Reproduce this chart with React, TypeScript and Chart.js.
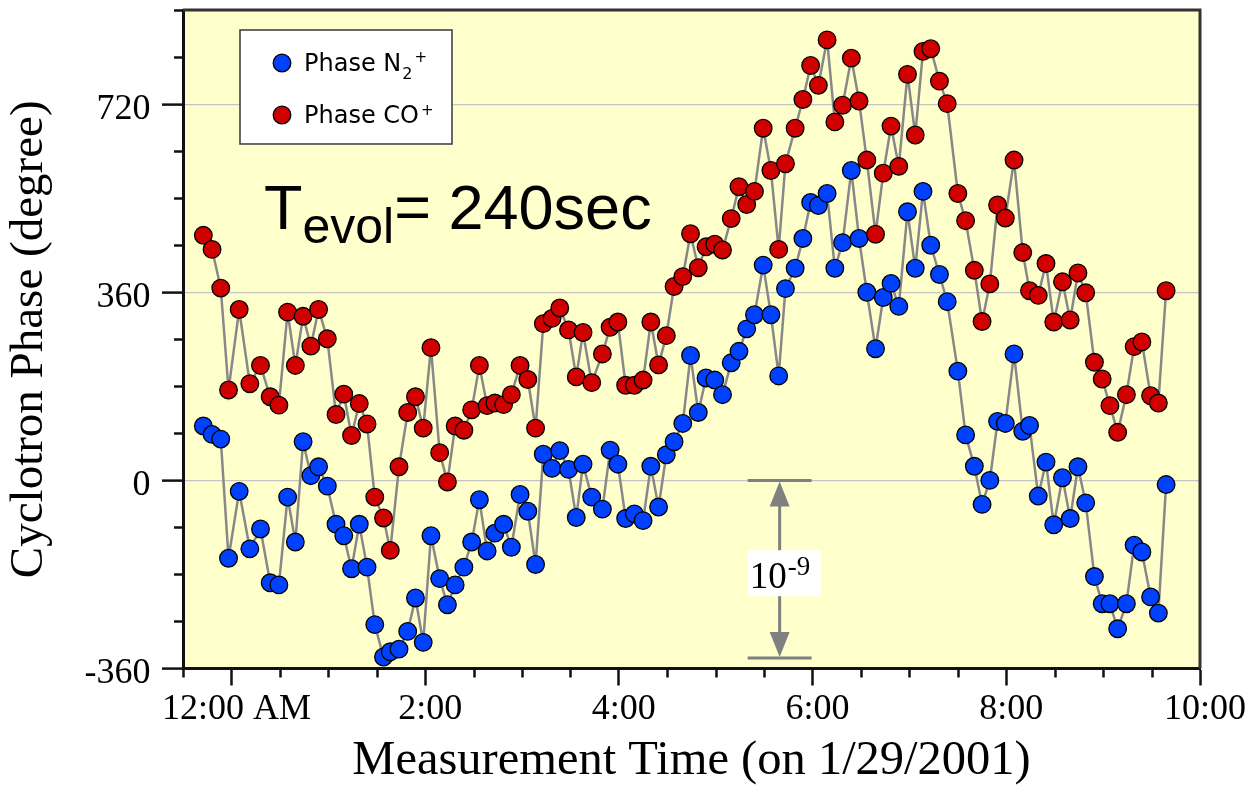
import React, { useEffect, useRef } from 'react';
import { Chart, registerables } from 'chart.js';

Chart.register(...registerables);

// Measurement times in hours after midnight (1/29/2001)
const times = [
  -0.29, -0.2, -0.11, -0.03, 0.08, 0.19, 0.3, 0.4, 0.49, 0.58, 0.66, 0.74, 0.82, 0.9, 0.99, 1.08, 1.16, 1.24, 1.32, 1.4, 1.48, 1.57, 1.64,
  1.73, 1.82, 1.9, 1.98, 2.06, 2.15, 2.23, 2.31, 2.4, 2.48, 2.56, 2.64, 2.72, 2.81, 2.89, 2.98, 3.06, 3.14, 3.22, 3.31, 3.39, 3.48, 3.56, 3.63,
  3.72, 3.83, 3.91, 3.99, 4.07, 4.16, 4.25, 4.33, 4.41, 4.49, 4.57, 4.66, 4.74, 4.82, 4.9, 4.99, 5.07, 5.16, 5.24, 5.32, 5.4, 5.49, 5.57, 5.65, 5.72,
  5.82, 5.9, 5.98, 6.06, 6.15, 6.23, 6.31, 6.4, 6.48, 6.56, 6.65, 6.73, 6.81, 6.89, 6.98, 7.06, 7.14, 7.22, 7.31, 7.39, 7.5, 7.58, 7.67, 7.75,
  7.83, 7.91, 7.99, 8.08, 8.17, 8.24, 8.33, 8.41, 8.49, 8.58, 8.66, 8.74, 8.82, 8.91, 8.99, 9.07, 9.15, 9.24, 9.32, 9.4, 9.49, 9.57, 9.65,
];

// Phase CO+ (degree)
const phaseCO = [
  469, 442, 368, 173, 327, 185, 220, 160, 144, 322, 220, 314, 257, 327, 271, 126, 165, 86, 147, 108, -32, -72, -134,
  26, 130, 160, 100, 254, 53, -3, 104, 96, 135, 220, 143, 148, 145, 164, 220, 193, 100, 300, 310, 330, 288, 198, 283,
  187, 242, 293, 303, 182, 182, 192, 303, 221, 277, 371, 390, 472, 407, 447, 452, 441, 501, 562, 528, 553, 674, 593, 442, 606,
  674, 729, 794, 756, 843, 686, 718, 808, 726, 613, 471, 588, 678, 601, 777, 661, 821, 826, 764, 721, 549, 497, 402, 304,
  376, 527, 502, 613, 436, 363, 354, 415, 303, 380, 307, 397, 359, 226, 194, 143, 92, 164, 256, 265, 162, 148, 363,
];

// Phase N2+ (degree)
const phaseN2 = [
  104, 88, 79, -149, -21, -131, -93, -196, -200, -32, -118, 74, 9, 26, -11, -84, -106, -169, -84, -166, -276, -338, -328,
  -323, -289, -225, -310, -106, -188, -238, -200, -166, -118, -37, -135, -101, -84, -128, -27, -59, -161, 50, 23, 57, 21, -71, 31,
  -32, -55, 58, 31, -73, -64, -77, 27, -51, 49, 74, 109, 239, 130, 196, 192, 164, 225, 247, 290, 317, 412, 317, 200, 367,
  406, 463, 532, 526, 549, 406, 455, 593, 463, 360, 252, 350, 377, 333, 514, 406, 553, 450, 394, 342, 209, 87, 27, -46,
  0, 113, 109, 242, 94, 105, -30, 35, -85, 5, -73, 26, -43, -184, -236, -236, -284, -236, -124, -137, -223, -254, -8,
];

// Tick labels
const xTickValues = [0, 2, 4, 6, 8, 10];
const xTickLabels = ['12:00 AM', '2:00', '4:00', '6:00', '8:00', '10:00'];
const yTickValues = [-360, 0, 360, 720];
const yTickLabels = ['-360', '0', '360', '720'];

// Annotation (arrow showing 10^-9)
const arrowTime = 5.66;
const arrowHalfWidth = 0.33;
const arrowTopValue = 0;
const arrowBottomValue = -340;

const SERIF = "'Liberation Serif', 'Times New Roman', serif";
const SANS = "'Liberation Sans', Arial, sans-serif";
const LEGEND_FONT = "'DejaVu Sans', Verdana, sans-serif";
const BLUE = '#0040ff';
const RED = '#d00000';

const toPoints = (ys: number[]) => ys.map((v, i) => ({ x: times[i], y: v }));

const isMajorX = (v: number) => xTickValues.indexOf(v) >= 0;
const isMajorY = (v: number) => yTickValues.indexOf(v) >= 0;

const decorPlugin = {
  id: 'decor',
  beforeDraw(chart: any) {
    const { ctx, chartArea: a } = chart;
    ctx.save();
    ctx.fillStyle = '#ffffcc';
    ctx.fillRect(a.left, a.top, a.right - a.left, a.bottom - a.top);
    ctx.restore();
  },
  afterDatasetsDraw(chart: any) {
    const { ctx, scales } = chart;
    const xs = scales.x;
    const ys = scales.y;

    // Legend box
    ctx.save();
    ctx.fillStyle = '#ffffff';
    ctx.fillRect(240, 30, 212, 114);
    ctx.strokeStyle = '#444';
    ctx.lineWidth = 1.6;
    ctx.strokeRect(240, 30, 212, 114);
    const marker = (cx: number, cy: number, color: string) => {
      ctx.beginPath();
      ctx.arc(cx, cy, 8.8, 0, Math.PI * 2);
      ctx.fillStyle = color;
      ctx.fill();
      ctx.lineWidth = 1.3;
      ctx.strokeStyle = '#000';
      ctx.stroke();
    };
    marker(282, 63, BLUE);
    marker(282, 115, RED);
    ctx.fillStyle = '#000';
    ctx.textBaseline = 'alphabetic';
    ctx.textAlign = 'left';
    ctx.font = `24px ${LEGEND_FONT}`;
    ctx.fillText('Phase N', 304, 71);
    let w = ctx.measureText('Phase N').width;
    ctx.font = `16px ${LEGEND_FONT}`;
    ctx.fillText('2', 304 + w + 1, 79);
    const w2 = ctx.measureText('2').width;
    ctx.font = `15px ${LEGEND_FONT}`;
    ctx.fillText('+', 304 + w + w2 + 3, 62);
    ctx.font = `24px ${LEGEND_FONT}`;
    ctx.fillText('Phase CO', 304, 123);
    w = ctx.measureText('Phase CO').width;
    ctx.font = `15px ${LEGEND_FONT}`;
    ctx.fillText('+', 304 + w + 2, 115);

    // T_evol text
    ctx.font = `63px ${SANS}`;
    ctx.fillText('T', 264, 229);
    const wt = ctx.measureText('T').width;
    ctx.font = `50px ${SANS}`;
    ctx.fillText('evol', 264 + wt, 243);
    const we = ctx.measureText('evol').width;
    ctx.font = `63px ${SANS}`;
    ctx.fillText('= 240sec', 264 + wt + we, 229);

    // Arrow annotation
    const xp = xs.getPixelForValue(arrowTime);
    const x1 = xs.getPixelForValue(arrowTime - arrowHalfWidth);
    const x2 = xs.getPixelForValue(arrowTime + arrowHalfWidth);
    const yt = ys.getPixelForValue(arrowTopValue);
    const yb = ys.getPixelForValue(arrowBottomValue);
    ctx.strokeStyle = '#808080';
    ctx.fillStyle = '#808080';
    ctx.lineWidth = 3;
    ctx.beginPath();
    ctx.moveTo(x1, yt);
    ctx.lineTo(x2, yt);
    ctx.moveTo(x1, yb);
    ctx.lineTo(x2, yb);
    ctx.moveTo(xp, yt + 20);
    ctx.lineTo(xp, yb - 20);
    ctx.stroke();
    ctx.beginPath();
    ctx.moveTo(xp, yt + 1);
    ctx.lineTo(xp - 10, yt + 26);
    ctx.lineTo(xp + 10, yt + 26);
    ctx.closePath();
    ctx.fill();
    ctx.beginPath();
    ctx.moveTo(xp, yb - 1);
    ctx.lineTo(xp - 10, yb - 26);
    ctx.lineTo(xp + 10, yb - 26);
    ctx.closePath();
    ctx.fill();
    const cy = (yt + yb) / 2 + 4;
    ctx.fillStyle = '#ffffff';
    ctx.fillRect(xp - 32, cy - 23, 73, 46);
    ctx.fillStyle = '#000';
    ctx.font = `37px ${SERIF}`;
    ctx.fillText('10', xp - 30, cy + 14.5);
    const w10 = ctx.measureText('10').width;
    ctx.font = `27px ${SERIF}`;
    ctx.fillText('-9', xp - 30 + w10 + 1, cy + 1.5);
    ctx.restore();
  },
  afterDraw(chart: any) {
    const { ctx, chartArea: a, scales } = chart;
    ctx.save();
    // top and right frame
    ctx.strokeStyle = '#333';
    ctx.lineWidth = 3;
    ctx.beginPath();
    ctx.moveTo(a.left, a.top);
    ctx.lineTo(a.right, a.top);
    ctx.lineTo(a.right, a.bottom);
    ctx.stroke();
    // minor ticks
    ctx.strokeStyle = '#111';
    ctx.lineWidth = 2.5;
    ctx.beginPath();
    for (const t of scales.x.ticks) {
      if (isMajorX(t.value)) continue;
      const px = Math.round(scales.x.getPixelForValue(t.value)) + 0.5;
      ctx.moveTo(px, a.bottom);
      ctx.lineTo(px, a.bottom + 9);
    }
    for (const t of scales.y.ticks) {
      if (isMajorY(t.value)) continue;
      const py = Math.round(scales.y.getPixelForValue(t.value)) + 0.5;
      ctx.moveTo(a.left, py);
      ctx.lineTo(a.left - 9, py);
    }
    ctx.stroke();
    ctx.restore();
  },
};

export default function App() {
  const ref = useRef<HTMLCanvasElement>(null);
  useEffect(() => {
    const canvas = ref.current;
    if (!canvas) return;
    const chart = new Chart(canvas, {
      type: 'line',
      data: {
        datasets: [
          {
            label: 'Phase CO+',
            data: toPoints(phaseCO),
            borderColor: '#888888',
            borderWidth: 2.5,
            pointBackgroundColor: RED,
            pointBorderColor: '#000',
            pointBorderWidth: 1.3,
            pointRadius: 8.8,
            tension: 0,
            fill: false,
          },
          {
            label: 'Phase N2+',
            data: toPoints(phaseN2),
            borderColor: '#888888',
            borderWidth: 2.5,
            pointBackgroundColor: BLUE,
            pointBorderColor: '#000',
            pointBorderWidth: 1.3,
            pointRadius: 8.8,
            tension: 0,
            fill: false,
          },
        ],
      },
      options: {
        responsive: false,
        animation: false,
        events: [],
        layout: { padding: { left: 0, top: 3, right: 52, bottom: 0 } },
        plugins: {
          legend: { display: false },
          tooltip: { enabled: false },
        },
        scales: {
          x: {
            type: 'linear',
            min: -0.5,
            max: 10,
            afterFit: (s: any) => {
              s.height = 121.5;
              s.paddingLeft = 0;
              s.paddingRight = 0;
            },
            ticks: {
              stepSize: 0.5,
              autoSkip: false,
              maxRotation: 0,
              minRotation: 0,
              padding: 2,
              labelOffset: 5,
              color: '#000',
              font: { family: SERIF, size: 36 },
              callback: (v: any) => {
                const i = xTickValues.indexOf(Number(v));
                return i >= 0 ? xTickLabels[i] : '';
              },
            },
            grid: {
              drawOnChartArea: false,
              drawTicks: true,
              tickLength: 17,
              tickWidth: 2.5,
              tickColor: (c: any) => (c.tick && isMajorX(c.tick.value) ? '#111' : 'rgba(0,0,0,0)'),
            },
            border: { display: true, color: '#111', width: 3 },
            title: {
              display: true,
              text: 'Measurement Time (on 1/29/2001)',
              color: '#000',
              font: { family: SERIF, size: 48.5 },
              padding: { top: 0, bottom: 0 },
            },
          },
          y: {
            type: 'linear',
            min: -360,
            max: 900,
            afterFit: (s: any) => {
              s.width = 183;
              s.paddingTop = 0;
              s.paddingBottom = 0;
            },
            ticks: {
              stepSize: 90,
              autoSkip: false,
              padding: 11.5,
              labelOffset: 5,
              color: '#000',
              font: { family: SERIF, size: 36 },
              callback: (v: any) => {
                const i = yTickValues.indexOf(Number(v));
                return i >= 0 ? yTickLabels[i] : '';
              },
            },
            grid: {
              drawOnChartArea: true,
              drawTicks: true,
              tickLength: 21,
              tickWidth: 2.5,
              lineWidth: 1.2,
              color: (c: any) => (c.tick && c.tick.value % 360 === 0 ? '#c4c4c4' : 'rgba(0,0,0,0)'),
              tickColor: (c: any) => (c.tick && isMajorY(c.tick.value) ? '#111' : 'rgba(0,0,0,0)'),
            },
            border: { display: true, color: '#111', width: 3 },
            title: {
              display: true,
              text: 'Cyclotron Phase (degree)',
              color: '#000',
              font: { family: SERIF, size: 47 },
              padding: { top: 1, bottom: 0 },
            },
          },
        },
      } as any,
      plugins: [decorPlugin],
    });
    return () => chart.destroy();
  }, []);

  return (
    <div style={{ position: 'absolute', left: 0, top: 0, width: 1252, height: 790, background: '#ffffff' }}>
      <canvas ref={ref} width={1252} height={790} style={{ display: 'block', width: 1252, height: 790 }} />
    </div>
  );
}
